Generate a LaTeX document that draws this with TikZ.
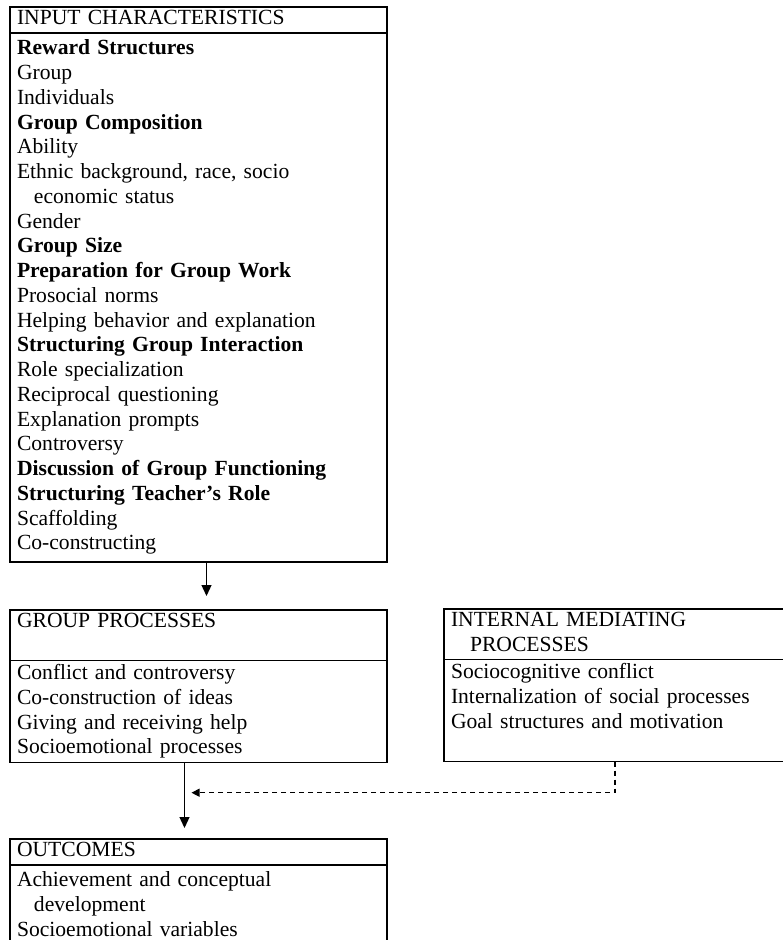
\documentclass[tikz,border=0pt]{standalone}
\usepackage{fontspec}
\setmainfont{Liberation Serif}
\usetikzlibrary{positioning,arrows.meta}
\tikzset{
  boxhead/.style = { draw, line width=1.2pt, outer sep=0pt, anchor=north west,
                     align=left, inner xsep=7pt, inner ysep=0.6pt,
                     font=\fontsize{21.6}{24.75}\selectfont,
                     execute at begin node=\strut, execute at end node=\strut },
  boxbody/.style = { boxhead, inner ysep=4.6pt },
    tight/.style = { inner ysep=1.5pt },
     wide/.style = { text width=363pt },
   narrow/.style = { text width=342pt },
    arrow/.style = { line width=1.2pt, -{Triangle[width=10pt,length=11pt]} },
   darrow/.style = { line width=1.2pt, dash pattern=on 5pt off 4pt,
                     -{Triangle[width=8pt,length=8pt]} }
}

\begin{document}
\begin{tikzpicture}[x=1pt,y=-1pt]
  \useasboundingbox (0,0) rectangle (783,940);
  \clip (0,0) rectangle (783,940);

  \node (inhead) [boxhead, wide] at (10,7) {INPUT CHARACTERISTICS};
  \node (inbody) [boxbody, wide, below=0pt of inhead]
    {\textbf{Reward Structures}\\
     Group\\
     Individuals\\
     \textbf{Group Composition}\\
     Ability\\
     Ethnic background, race, socio\\
     \hspace*{17pt}economic status\\
     Gender\\
     \textbf{Group Size}\\
     \textbf{Preparation for Group Work}\\
     Prosocial norms\\
     Helping behavior and explanation\\
     \textbf{Structuring Group Interaction}\\
     Role specialization\\
     Reciprocal questioning\\
     Explanation prompts\\
     Controversy\\
     \textbf{Discussion of Group Functioning}\\
     \textbf{Structuring Teacher's Role}\\
     Scaffolding\\
     Co-constructing};

  \node (gphead) [boxhead, wide] at (10,610) {GROUP PROCESSES\\};
  \node (gpbody) [boxbody, tight, wide, below=0pt of gphead]
    {Conflict and controversy\\
     Co-construction of ideas\\
     Giving and receiving help\\
     Socioemotional processes};

  \node (imhead) [boxhead, narrow] at (444,609)
    {INTERNAL MEDIATING\\ \hspace*{19pt}PROCESSES};
  \node (imbody) [boxbody, tight, narrow, below=0pt of imhead]
    {Sociocognitive conflict\\
     Internalization of social processes\\
     Goal structures and motivation\\};

  \node (ouhead) [boxhead, wide] at (10,839) {OUTCOMES};
  \node (oubody) [boxbody, wide, below=0pt of ouhead]
    {Achievement and conceptual\\
     \hspace*{17pt}development\\
     Socioemotional variables\\};

  \coordinate (meet) at ([xshift=-7pt,yshift=-30pt]gpbody.south);

  \draw [arrow] ([xshift=8pt]inbody.south) -- ([xshift=8pt,yshift=14pt]gphead.north);
  \draw [arrow] ([xshift=-14pt]gpbody.south) -- ([xshift=-14pt,yshift=11pt]ouhead.north);
  \draw [darrow] ([xshift=-7pt]imbody.south) |- (meet);
\end{tikzpicture}
\end{document}
